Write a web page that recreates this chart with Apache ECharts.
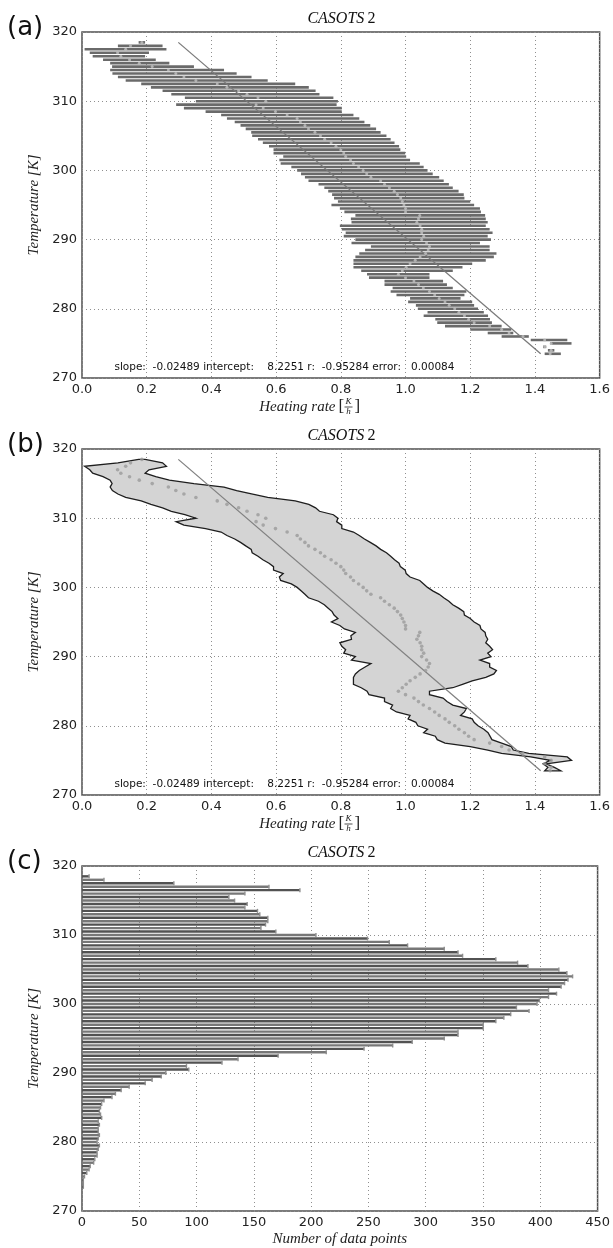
<!DOCTYPE html>
<html>
<head>
<meta charset="utf-8">
<script src="https://cdn.jsdelivr.net/npm/echarts@6/dist/echarts.min.js"></script>
<style>
  html, body { margin: 0; padding: 0; background: #fff; }
  #chart { width: 613px; height: 1248px; }
</style>
</head>
<body>
<div id="chart"></div>
<script>
// Temperature bins (K), 0.5 K apart, warmest first
const temperature = [
  318.5, 318.0, 317.5, 317.0, 316.5, 316.0, 315.5, 315.0, 314.5, 314.0,
  313.5, 313.0, 312.5, 312.0, 311.5, 311.0, 310.5, 310.0, 309.5, 309.0,
  308.5, 308.0, 307.5, 307.0, 306.5, 306.0, 305.5, 305.0, 304.5, 304.0,
  303.5, 303.0, 302.5, 302.0, 301.5, 301.0, 300.5, 300.0, 299.5, 299.0,
  298.5, 298.0, 297.5, 297.0, 296.5, 296.0, 295.5, 295.0, 294.5, 294.0,
  293.5, 293.0, 292.5, 292.0, 291.5, 291.0, 290.5, 290.0, 289.5, 289.0,
  288.5, 288.0, 287.5, 287.0, 286.5, 286.0, 285.5, 285.0, 284.5, 284.0,
  283.5, 283.0, 282.5, 282.0, 281.5, 281.0, 280.5, 280.0, 279.5, 279.0,
  278.5, 278.0, 277.5, 277.0, 276.5, 276.0, 275.5, 275.0, 274.5, 274.0,
  273.5
];

// Lowest heating rate in each bin (K/h)
const rateMin = [
  0.175, 0.111, 0.008, 0.024, 0.033, 0.065, 0.087, 0.093, 0.087, 0.094,
  0.111, 0.135, 0.183, 0.213, 0.249, 0.276, 0.318, 0.352, 0.291, 0.315,
  0.382, 0.430, 0.448, 0.472, 0.490, 0.506, 0.523, 0.526, 0.544, 0.559,
  0.578, 0.592, 0.592, 0.622, 0.610, 0.614, 0.647, 0.665, 0.677, 0.689,
  0.700, 0.731, 0.749, 0.761, 0.773, 0.779, 0.791, 0.771, 0.797, 0.811,
  0.845, 0.831, 0.833, 0.797, 0.803, 0.815, 0.809, 0.845, 0.833, 0.893,
  0.875, 0.857, 0.845, 0.839, 0.839, 0.839, 0.863, 0.881, 0.887, 0.935,
  0.935, 0.960, 0.954, 0.972, 1.014, 1.008, 1.032, 1.038, 1.068, 1.056,
  1.092, 1.098, 1.122, 1.200, 1.254, 1.297, 1.387, 1.447, 1.425, 1.440,
  1.430
];

// Highest heating rate in each bin (K/h)
const rateMax = [
  0.195, 0.249, 0.261, 0.207, 0.195, 0.228, 0.270, 0.346, 0.439, 0.478,
  0.524, 0.574, 0.659, 0.701, 0.722, 0.734, 0.777, 0.791, 0.787, 0.803,
  0.803, 0.839, 0.857, 0.873, 0.891, 0.909, 0.923, 0.941, 0.954, 0.966,
  0.980, 0.984, 0.999, 1.002, 1.014, 1.044, 1.056, 1.068, 1.084, 1.104,
  1.118, 1.134, 1.146, 1.164, 1.180, 1.182, 1.200, 1.212, 1.230, 1.233,
  1.246, 1.248, 1.254, 1.248, 1.260, 1.269, 1.254, 1.264, 1.230, 1.260,
  1.260, 1.281, 1.273, 1.248, 1.206, 1.176, 1.146, 1.074, 1.074, 1.116,
  1.128, 1.146, 1.188, 1.182, 1.170, 1.206, 1.212, 1.224, 1.242, 1.255,
  1.261, 1.267, 1.297, 1.327, 1.333, 1.381, 1.500, 1.513, 1.435, 1.460,
  1.480
];

// Mean heating rate in each bin (K/h)
const rateMean = [
  0.185, 0.150, 0.135, 0.110, 0.120, 0.147, 0.177, 0.217, 0.267, 0.290,
  0.315, 0.352, 0.418, 0.448, 0.484, 0.510, 0.544, 0.568, 0.538, 0.560,
  0.598, 0.634, 0.665, 0.675, 0.689, 0.700, 0.720, 0.737, 0.750, 0.770,
  0.785, 0.800, 0.809, 0.815, 0.830, 0.839, 0.855, 0.869, 0.880, 0.893,
  0.923, 0.935, 0.950, 0.965, 0.975, 0.985, 0.990, 0.995, 1.000, 1.000,
  1.044, 1.040, 1.035, 1.045, 1.050, 1.050, 1.056, 1.050, 1.065, 1.074,
  1.070, 1.062, 1.045, 1.030, 1.014, 1.002, 0.990, 0.978, 1.000, 1.026,
  1.040, 1.055, 1.074, 1.090, 1.104, 1.122, 1.135, 1.152, 1.165, 1.182,
  1.195, 1.212, 1.260, 1.297, 1.320, 1.363, 1.430, 1.450, 1.430, 1.450,
  1.447
];

// Number of data points in each bin
const pointCount = [
  6, 19, 80, 163, 190, 142, 128, 133, 144, 142,
  153, 155, 162, 162, 160, 156, 169, 204, 249, 268,
  284, 316, 328, 332, 361, 380, 389, 416, 423, 428,
  424, 421, 418, 407, 414, 407, 399, 397, 379, 390,
  374, 368, 361, 350, 350, 328, 328, 316, 288, 271,
  246, 213, 171, 136, 122, 91, 93, 73, 69, 61,
  55, 41, 34, 29, 26, 19, 17, 16, 15, 16,
  17, 14, 15, 14, 14, 15, 14, 13, 15, 14,
  13, 13, 11, 10, 7, 6, 4, 2, 1, 1,
  1
];

// Linear fit of heating rate against temperature
const fitSlope = -0.02489;
const fitIntercept = 8.2251;
const fitR = -0.95284;
const fitError = 0.00084;

const panelLetters = ['(a)', '(b)', '(c)'];
const panelTitle = 'CASOTS';
const panelTitleNumber = '2';

const panelTops = [32, 449, 866];
const plotH = 346;
const plotLeft = 82;
const plotRight = 12;
const plotW = 613 - plotLeft - plotRight;

const sans = 'DejaVu Sans';
const serif = 'Liberation Serif';

const chart = echarts.init(document.getElementById('chart'), null, { renderer: 'canvas' });

const fitLine = [temperature[0], temperature[temperature.length - 1]].map(
  t => [fitIntercept + fitSlope * t, t]
);
const fitText = 'slope:  ' + fitSlope + ' intercept:    ' + fitIntercept +
  ' r:  ' + fitR + ' error:   ' + fitError;

function gridOf(top) {
  return {
    left: plotLeft, width: plotW, top: top, height: plotH,
    show: true, backgroundColor: '#fff', borderColor: '#505050', borderWidth: 1.5,
    containLabel: false
  };
}

const dotted = { show: true, lineStyle: { type: [1, 3], color: '#8f8f8f', width: 1 } };

function xAxisOf(idx, max, interval, decimals, name) {
  return {
    type: 'value', gridIndex: idx, min: 0, max: max, interval: interval,
    axisLine: { show: false }, axisTick: { show: false },
    axisLabel: {
      color: '#222', fontFamily: sans, fontSize: 13, margin: 5,
      formatter: v => v.toFixed(decimals)
    },
    splitLine: dotted,
    name: name || '', nameLocation: 'middle', nameGap: 21,
    nameTextStyle: { fontFamily: serif, fontStyle: 'italic', fontSize: 15, color: '#222' }
  };
}

function yAxisOf(idx) {
  return {
    type: 'value', gridIndex: idx, min: 270, max: 320, interval: 10,
    axisLine: { show: false }, axisTick: { show: false },
    axisLabel: { color: '#222', fontFamily: sans, fontSize: 13, margin: 5 },
    splitLine: dotted,
    name: 'Temperature [K]', nameLocation: 'middle', nameGap: 40,
    nameTextStyle: { fontFamily: serif, fontStyle: 'italic', fontSize: 15, color: '#222' }
  };
}

// Range bars: min to max heating rate per temperature bin
function rangeBars(params, api) {
  const a = api.coord([api.value(0), api.value(2)]);
  const b = api.coord([api.value(1), api.value(2)]);
  const h = 2.6;
  return {
    type: 'rect',
    shape: { x: a[0], y: a[1] - h / 2, width: Math.max(b[0] - a[0], 1.5), height: h },
    style: { fill: '#6a6a6a' }
  };
}

// Envelope of the heating-rate range as one filled polygon
function envelope(params, api) {
  const pts = [];
  for (let i = 0; i < temperature.length; i++) pts.push(api.coord([rateMin[i], temperature[i]]));
  for (let i = temperature.length - 1; i >= 0; i--) pts.push(api.coord([rateMax[i], temperature[i]]));
  return {
    type: 'polygon',
    shape: { points: pts },
    style: { fill: '#d4d4d4', stroke: '#1e1e1e', lineWidth: 1.3 }
  };
}

// Histogram bars of point counts, drawn horizontally from zero
function countBars(params, api) {
  const a = api.coord([0, api.value(1)]);
  const b = api.coord([api.value(0), api.value(1)]);
  const h = 2.4;
  return {
    type: 'group',
    children: [
      { type: 'rect', shape: { x: a[0], y: a[1] - h / 2, width: Math.max(b[0] - a[0], 0.8), height: h },
        style: { fill: params.dataIndex % 2 ? '#777' : '#525252' } },
      { type: 'rect', shape: { x: b[0] - 0.5, y: a[1] - 2, width: 1.4, height: 4 },
        style: { fill: '#8c8c8c' } }
    ]
  };
}

const graphics = [];
panelTops.forEach((top, i) => {
  graphics.push({
    type: 'text', left: 7, top: top - 17,
    style: { text: panelLetters[i], font: '26px "' + sans + '"', fill: '#111' }
  });
  graphics.push({
    type: 'text', x: plotLeft + plotW / 2, y: top - 13,
    style: {
      text: '{i|' + panelTitle + '} {n|' + panelTitleNumber + '}',
      align: 'center', verticalAlign: 'middle',
      rich: {
        i: { fontFamily: serif, fontStyle: 'italic', fontSize: 16, fill: '#111' },
        n: { fontFamily: serif, fontSize: 16, fill: '#111' }
      }
    }
  });
});
// Fit statistics and the "Heating rate [K/h]" axis title for panels (a) and (b)
[0, 1].forEach(i => {
  const bottom = panelTops[i] + plotH;
  graphics.push({
    type: 'text', x: plotLeft + plotW * 0.1 / 1.6, y: bottom - 11,
    style: { text: fitText, font: '10.5px "' + sans + '"', fill: '#111', verticalAlign: 'middle' }
  });
  const cx = plotLeft + plotW / 2;
  const cy = bottom + 29;
  graphics.push({
    type: 'group', children: [
      { type: 'text', x: cx - 6, y: cy, style: { text: 'Heating rate', align: 'right', verticalAlign: 'middle',
        font: 'italic 15px "' + serif + '"', fill: '#222' } },
      { type: 'text', x: cx - 3, y: cy, style: { text: '[', align: 'left', verticalAlign: 'middle',
        font: '17px "' + serif + '"', fill: '#222' } },
      { type: 'text', x: cx + 7, y: cy - 5, style: { text: 'K', align: 'center', verticalAlign: 'middle',
        font: 'italic 9px "' + serif + '"', fill: '#222' } },
      { type: 'line', shape: { x1: cx + 3, y1: cy, x2: cx + 11, y2: cy }, style: { stroke: '#222', lineWidth: 0.8 } },
      { type: 'text', x: cx + 7, y: cy + 5, style: { text: 'h', align: 'center', verticalAlign: 'middle',
        font: 'italic 9px "' + serif + '"', fill: '#222' } },
      { type: 'text', x: cx + 13, y: cy, style: { text: ']', align: 'left', verticalAlign: 'middle',
        font: '17px "' + serif + '"', fill: '#222' } }
    ]
  });
});

const option = {
  animation: false,
  backgroundColor: '#fff',
  grid: panelTops.map(gridOf),
  xAxis: [
    xAxisOf(0, 1.6, 0.2, 1),
    xAxisOf(1, 1.6, 0.2, 1),
    xAxisOf(2, 450, 50, 0, 'Number of data points')
  ],
  yAxis: [yAxisOf(0), yAxisOf(1), yAxisOf(2)],
  graphic: graphics,
  series: [
    {
      type: 'custom', xAxisIndex: 0, yAxisIndex: 0,
      data: temperature.map((t, i) => [rateMin[i], rateMax[i], t]),
      encode: { x: [0, 1], y: 2 },
      renderItem: rangeBars, z: 2
    },
    {
      type: 'line', xAxisIndex: 0, yAxisIndex: 0, data: fitLine,
      symbol: 'none', lineStyle: { color: '#7a7a7a', width: 1.3 }, z: 3
    },
    {
      type: 'scatter', xAxisIndex: 0, yAxisIndex: 0,
      data: temperature.map((t, i) => [rateMean[i], t]),
      symbol: 'circle', symbolSize: 3, itemStyle: { color: '#c4c4c4' }, z: 4
    },
    {
      type: 'custom', xAxisIndex: 1, yAxisIndex: 1,
      data: [[rateMin[0], temperature[0]]],
      renderItem: envelope, z: 2
    },
    {
      type: 'line', xAxisIndex: 1, yAxisIndex: 1, data: fitLine,
      symbol: 'none', lineStyle: { color: '#808080', width: 1.3 }, z: 3
    },
    {
      type: 'scatter', xAxisIndex: 1, yAxisIndex: 1,
      data: temperature.map((t, i) => [rateMean[i], t]),
      symbol: 'circle', symbolSize: 3.6, itemStyle: { color: '#9a9a9a' }, z: 4
    },
    {
      type: 'custom', xAxisIndex: 2, yAxisIndex: 2,
      data: temperature.map((t, i) => [pointCount[i], t]),
      encode: { x: 0, y: 1 },
      renderItem: countBars, z: 2
    }
  ]
};

chart.setOption(option);
</script>
</body>
</html>
